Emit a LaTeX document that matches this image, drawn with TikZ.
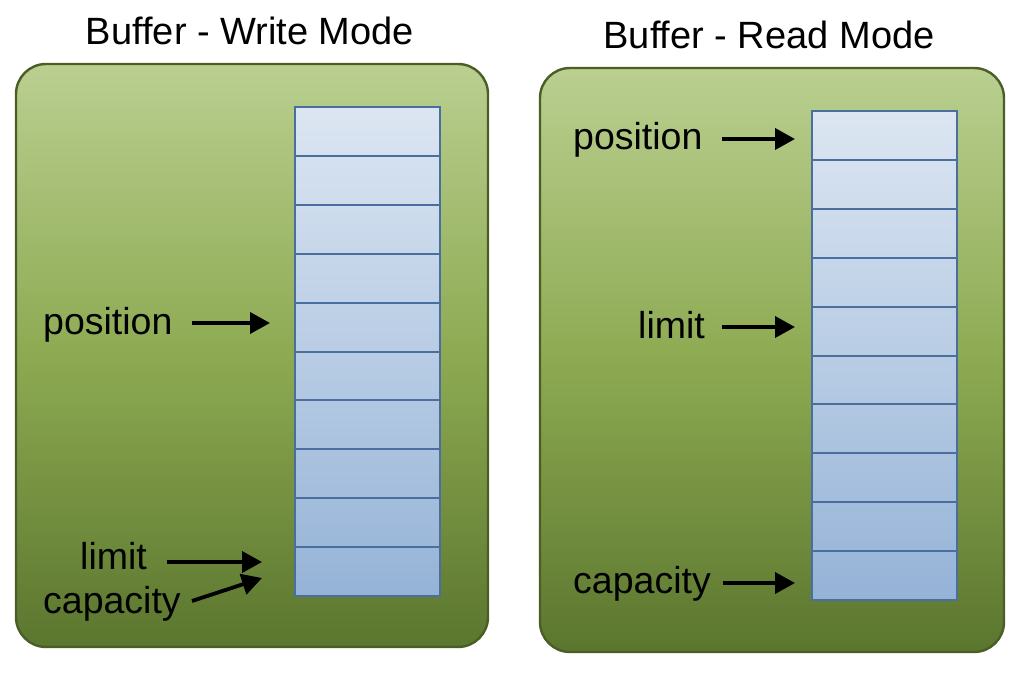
\documentclass[tikz,border=0pt]{standalone}
\usepackage{fontspec}
\setmainfont{Liberation Sans}
\usetikzlibrary{arrows.meta}
\definecolor{pantop}{HTML}{BACF90}
\definecolor{panmid}{HTML}{8DAA52}
\definecolor{panbot}{HTML}{5B762E}
\definecolor{panedge}{HTML}{4A5E26}
\definecolor{celltop}{HTML}{DCE6F2}
\definecolor{cellbot}{HTML}{95B3D7}
\definecolor{celledge}{HTML}{4A6E9E}
\begin{document}
\begin{tikzpicture}[x=1pt,y=-1pt,
  panel/.style={draw=panedge, line width=2.4pt, rounded corners=30pt, top color=pantop, bottom color=panbot, middle color=panmid},
  column/.style={top color=celltop, bottom color=cellbot},
  cellbox/.style={draw=celledge, line width=2pt, minimum width=145pt, minimum height=48.9pt, anchor=north west, inner sep=0pt},
  lbl/.style={font=\fontsize{37.5}{44}\selectfont, inner sep=0pt, anchor=base west},
  ttl/.style={font=\fontsize{38}{44}\selectfont, inner sep=0pt, anchor=base},
  ptr/.style={line width=3.8pt, -{Triangle[length=20pt,width=21pt]}}]
\useasboundingbox[fill=white] (0,0) rectangle (1018,678);
% panels
\path[panel] (16,64) rectangle (488,647);
\path[panel] (540,68) rectangle (1004,652);
% columns
\path[column] (294,106) rectangle (439,595);
\path[column] (811,110) rectangle (956,599);
\foreach \i in {1,...,10} {
  \node[cellbox] (L\i) at (294,{106+(\i-1)*48.9}) {};
  \node[cellbox] (R\i) at (811,{110+(\i-1)*48.9}) {};
}
% titles
\node[ttl] (tw) at (250,44) {Buffer - Write Mode};
\node[ttl] (tr) at (769,48) {Buffer - Read Mode};
% left labels
\node[lbl] (Lpos) at (43,334) {position};
\node[lbl] (Llim) at (80,569) {limit};
\node[lbl] (Lcap) at (43,613) {capacity};
% right labels
\node[lbl] (Rpos) at (573,149) {position};
\node[lbl] (Rlim) at (638,338) {limit};
\node[lbl] (Rcap) at (573,593) {capacity};
% arrow ends
\coordinate (Lpt) at (192,323); \coordinate (Lph) at (270,323);
\coordinate (Llt) at (167,562); \coordinate (Llh) at (262,562);
\coordinate (Lct) at (192,601); \coordinate (Lch) at (262,578);
\coordinate (Rpt) at (722,139); \coordinate (Rph) at (795,139);
\coordinate (Rlt) at (722,327); \coordinate (Rlh) at (795,327);
\coordinate (Rct) at (723,583); \coordinate (Rch) at (795,583);
\draw[ptr] (Lpt) -- (Lph);
\draw[ptr] (Llt) -- (Llh);
\draw[ptr] (Lct) -- (Lch);
\draw[ptr] (Rpt) -- (Rph);
\draw[ptr] (Rlt) -- (Rlh);
\draw[ptr] (Rct) -- (Rch);
\end{tikzpicture}
\end{document}
